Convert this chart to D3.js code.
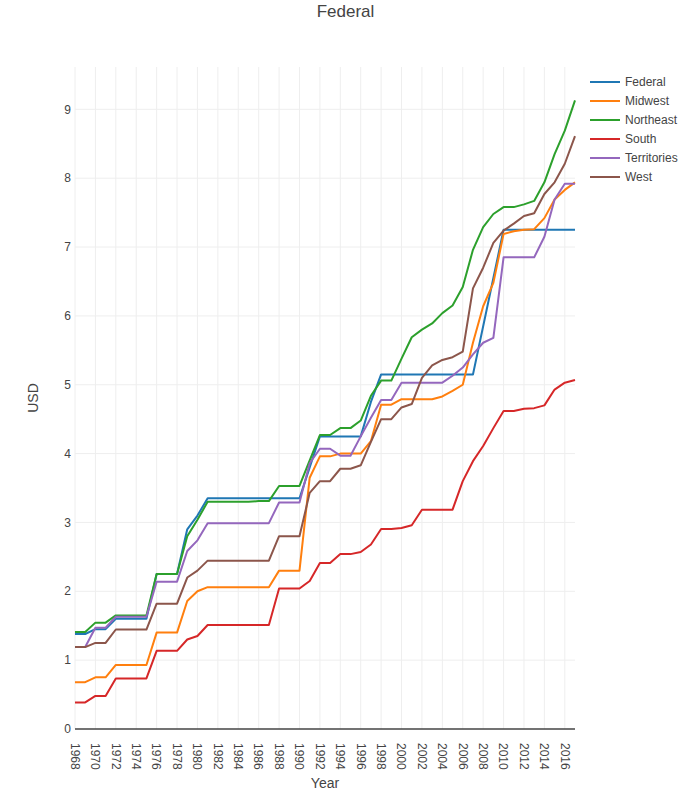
<!DOCTYPE html>
<html><head><meta charset="utf-8">
<script src="https://cdn.jsdelivr.net/npm/d3@7"></script>
<style>body{margin:0;background:#fff}svg{display:block}</style>
</head><body><svg id="c" width="691" height="799"></svg>
<script>
const years = d3.range(1968, 2018);
const seriesNames = ["Federal","Midwest","Northeast","South","Territories","West"];
const colors = ["#1f77b4","#ff7f0e","#2ca02c","#d62728","#9467bd","#8c564b"];
const federal = [1.38,1.38,1.45,1.45,1.60,1.60,1.60,1.60,2.25,2.25,2.25,2.90,3.10,3.35,
 3.35,3.35,3.35,3.35,3.35,3.35,3.35,3.35,3.35,
 3.80,4.25,4.25,4.25,4.25,4.25,4.75,5.15,
 5.15,5.15,5.15,5.15,5.15,5.15,5.15,5.15,5.15,
 5.85,6.55,7.25,7.25,7.25,7.25,7.25,7.25,7.25,7.25];
const midwest = [0.68,0.68,0.75,0.75,0.93,0.93,0.93,0.93,1.40,1.40,1.40,1.86,2.00,2.06,
 2.06,2.06,2.06,2.06,2.06,2.06,2.30,2.30,2.30,
 3.65,3.96,3.96,4.00,4.00,4.00,4.18,4.71,4.71,4.79,4.79,4.79,4.79,4.83,4.91,5.00,5.61,6.14,6.48,7.19,7.23,7.25,7.26,7.42,7.69,7.83,7.94];
const northeast = [1.41,1.41,1.545,1.545,1.65,1.65,1.65,1.65,2.25,2.25,2.25,2.80,3.04,3.30,
 3.30,3.30,3.30,3.30,3.31,3.31,3.53,3.53,3.53,
 3.90,4.27,4.27,4.37,4.37,4.48,4.84,5.06,5.06,5.38,5.69,5.80,5.89,6.04,6.15,6.42,6.96,7.29,7.48,7.58,7.58,7.62,7.67,7.94,8.35,8.69,9.13];
const south = [0.386,0.386,0.48,0.48,0.735,0.735,0.735,0.735,1.135,1.135,1.135,1.30,1.35,1.51,
 1.51,1.51,1.51,1.51,1.51,1.51,2.04,2.04,2.04,
 2.15,2.41,2.41,2.54,2.54,2.57,2.68,2.905,2.905,2.92,2.96,3.185,3.185,3.185,3.185,3.60,3.89,4.11,4.37,4.62,4.62,4.65,4.66,4.70,4.93,5.03,5.07];
const territories = [1.19,1.19,1.47,1.47,1.63,1.63,1.63,1.63,2.14,2.14,2.14,2.585,2.74,2.99,
 2.99,2.99,2.99,2.99,2.99,2.99,3.29,3.29,3.29,
 3.86,4.07,4.07,3.97,3.97,4.25,4.52,4.78,4.78,5.03,5.03,5.03,5.03,5.03,5.13,5.25,5.44,5.61,5.68,6.85,6.85,6.85,6.85,7.15,7.69,7.92,7.92];
const west = [1.19,1.19,1.25,1.25,1.445,1.445,1.445,1.445,1.82,1.82,1.82,2.20,2.30,2.445,
 2.445,2.445,2.445,2.445,2.445,2.445,2.80,2.80,2.80,
 3.43,3.60,3.60,3.78,3.78,3.83,4.17,4.50,4.50,4.67,4.72,5.10,5.28,5.36,5.40,5.48,6.40,6.70,7.06,7.24,7.34,7.45,7.49,7.77,7.94,8.21,8.61];
const xTicks = d3.range(1968, 2017, 2);
const yTicks = [0,1,2,3,4,5,6,7,8,9];

const allSeries = [federal, midwest, northeast, south, territories, west];
const font = "Arial, 'Liberation Sans', sans-serif";
const svg = d3.select("#c");
const L = 75, R = 575, T = 67, B = 729;
const x = d3.scaleLinear().domain([1968, 2017]).range([L, R]);
const y = d3.scaleLinear().domain([0, 9.615]).range([B, T]);

// grid
const g = svg.append("g");
g.selectAll(".vx").data(xTicks).join("line")
  .attr("x1", d => x(d)).attr("x2", d => x(d)).attr("y1", T).attr("y2", B)
  .attr("stroke", "#eee").attr("stroke-width", 1);
g.selectAll(".hy").data(yTicks.filter(d => d > 0)).join("line")
  .attr("x1", L).attr("x2", R).attr("y1", d => y(d)).attr("y2", d => y(d))
  .attr("stroke", "#eee").attr("stroke-width", 1);

// lines
const line = d3.line().x((d, i) => x(years[i])).y(d => y(d));
allSeries.forEach((s, k) => {
  svg.append("path").datum(s).attr("d", line).attr("fill", "none")
    .attr("stroke", colors[k]).attr("stroke-width", 2).attr("stroke-linejoin", "round");
});

// zero line
svg.append("line").attr("x1", L).attr("x2", R).attr("y1", y(0)).attr("y2", y(0))
  .attr("stroke", "#444").attr("stroke-width", 1.5);

// y tick labels
svg.selectAll(".yl").data(yTicks).join("text")
  .attr("x", 71).attr("y", d => y(d)).attr("dy", "0.35em")
  .attr("text-anchor", "end").attr("font-family", font).attr("font-size", 12).attr("fill", "#444")
  .text(d => d);

// x tick labels
svg.selectAll(".xl").data(xTicks).join("text")
  .attr("transform", d => `translate(${x(d)},743) rotate(90)`)
  .attr("dy", "0.35em").attr("text-anchor", "start")
  .attr("font-family", font).attr("font-size", 12).attr("fill", "#444")
  .text(d => d);

// axis titles
svg.append("text").attr("x", (L + R) / 2).attr("y", 788).attr("text-anchor", "middle")
  .attr("font-family", font).attr("font-size", 14).attr("fill", "#444").text("Year");
svg.append("text").attr("transform", `translate(38,${(T + B) / 2}) rotate(-90)`)
  .attr("text-anchor", "middle").attr("font-family", font).attr("font-size", 14).attr("fill", "#444").text("USD");

// title
svg.append("text").attr("x", 345.5).attr("y", 17).attr("text-anchor", "middle")
  .attr("font-family", font).attr("font-size", 17).attr("fill", "#444").text("Federal");

// legend
const lg = svg.append("g");
seriesNames.forEach((n, k) => {
  const yy = 82 + k * 19;
  lg.append("line").attr("x1", 590).attr("x2", 620).attr("y1", yy).attr("y2", yy)
    .attr("stroke", colors[k]).attr("stroke-width", 2);
  lg.append("text").attr("x", 625).attr("y", yy).attr("dy", "0.35em")
    .attr("font-family", font).attr("font-size", 12).attr("fill", "#444").text(n);
});
</script></body></html>
